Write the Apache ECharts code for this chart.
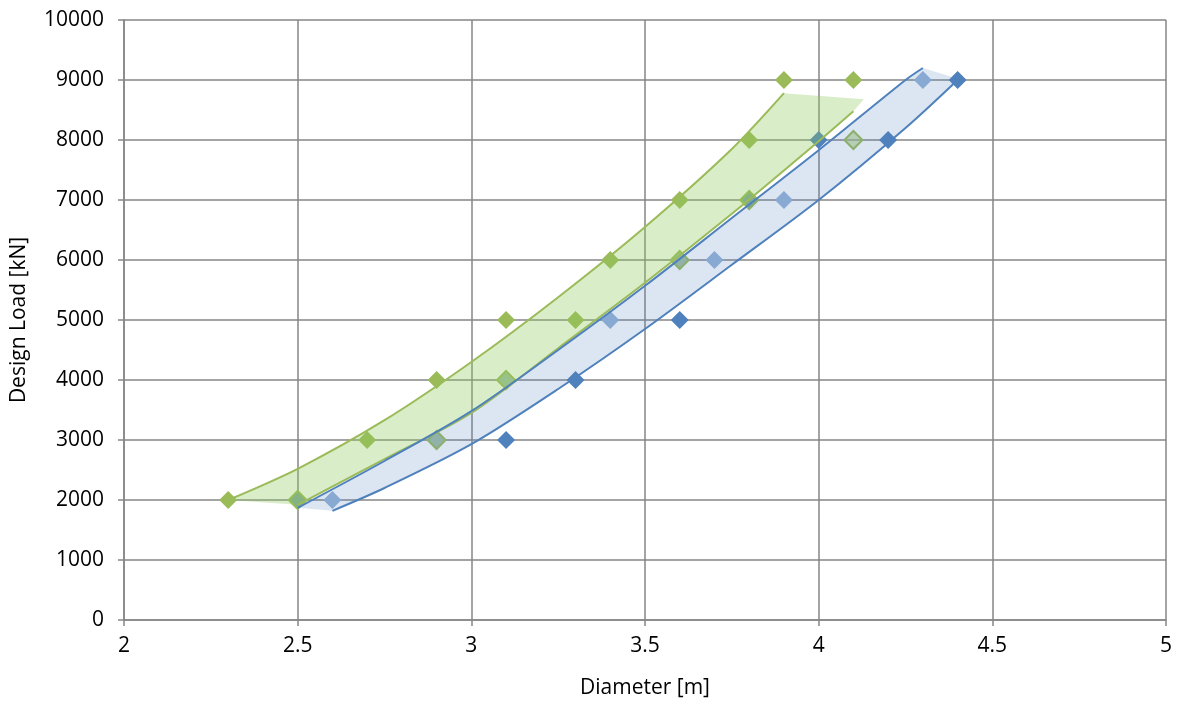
<!DOCTYPE html>
<html>
<head>
<meta charset="utf-8">
<script src="https://cdn.jsdelivr.net/npm/echarts@6/dist/echarts.min.js"></script>
<style>html,body{margin:0;padding:0;background:#fff}#c{width:1180px;height:707px}</style>
</head>
<body>
<div id="c"></div>
<script>
// ---- data ----
const xTicks = [2, 2.5, 3, 3.5, 4, 4.5, 5];
const yTicks = [0, 1000, 2000, 3000, 4000, 5000, 6000, 7000, 8000, 9000, 10000];

const greenDark = [[2.3,2000],[2.7,3000],[2.9,4000],[3.1,5000],[3.3,5000],[3.4,6000],[3.6,7000],[3.8,8000],[3.9,9000],[4.1,9000]];
const greenLight = [[2.5,2000],[2.9,3000],[3.1,4000],[3.6,6000],[3.8,7000],[4.1,8000]];
const blueDark = [[2.5,2000],[3.1,3000],[3.3,4000],[3.6,5000],[3.8,7000],[4.0,8000],[4.2,8000],[4.4,9000]];
const blueLight = [[2.6,2000],[2.9,3000],[3.1,4000],[3.4,5000],[3.6,6000],[3.7,6000],[3.9,7000],[4.3,9000]];

// trend curves
const greenUpper = [[2.3,2000],[2.5,2520],[2.75,3330],[3.0,4300],[3.25,5380],[3.5,6550],[3.75,7850],[3.9,8780]];
const greenLower = [[2.5,1920],[2.75,2680],[3.0,3450],[3.25,4530],[3.5,5620],[3.75,6770],[4.0,7980],[4.1,8480]];
const blueUpper  = [[2.5,1870],[2.75,2650],[3.0,3480],[3.25,4500],[3.5,5570],[3.75,6700],[4.0,7830],[4.25,9000],[4.3,9200]];
const blueLower  = [[2.6,1820],[2.75,2200],[3.0,2930],[3.25,3850],[3.5,4850],[3.75,5920],[4.0,7000],[4.25,8200],[4.4,9000]];

// extra corners of the shaded bands
const greenBandTop = [[4.13,8680]];
const blueBandTop  = [[4.38,9060]];

const C_GREEN = '#9BBB59', C_BLUE = '#4F81BD', C_LBLUE = '#95B3D7';

const greenPoly = greenUpper.concat(greenBandTop, greenLower.slice().reverse());
const bluePoly  = blueUpper.concat(blueBandTop, blueLower.slice().reverse());

function band(poly, fill) {
  return {
    type: 'custom', z: 3, silent: true,
    data: [[2, 0]],
    renderItem: function (params, api) {
      return { type: 'polygon', shape: { points: poly.map(p => api.coord(p)) }, style: { fill: fill } };
    }
  };
}
function trend(data, color) {
  return { type: 'line', data: data, smooth: 0.3, symbol: 'none', z: 4,
    lineStyle: { color: color, width: 2 }, silent: true };
}
function pts(data, color, border) {
  return { type: 'scatter', data: data, symbol: 'diamond', symbolSize: 18, z: 2,
    itemStyle: { color: color, borderColor: border || color, borderWidth: border ? 2 : 0, opacity: 1 } };
}

const FONT = 'Open Sans';
const FS = 21;
const chart = echarts.init(document.getElementById('c'));
chart.setOption({
  animation: false,
  backgroundColor: '#fff',
  textStyle: { fontFamily: FONT },
  grid: { left: 124, right: 14, top: 20, bottom: 87, containLabel: false, outerBoundsMode: 'none' },
  xAxis: {
    type: 'value', min: 2, max: 5, interval: 0.5,
    name: 'Diameter [m]', nameLocation: 'middle', nameGap: 58,
    nameTextStyle: { color: '#000', fontSize: FS, fontFamily: FONT },
    axisLine: { show: true, onZero: false, lineStyle: { color: '#868686', width: 1.5 } },
    axisTick: { show: true, length: 6, lineStyle: { color: '#868686', width: 1.5 } },
    axisLabel: { color: '#000', fontSize: FS, margin: 16, fontFamily: FONT,
      formatter: v => xTicks.includes(v) ? String(v) : '' },
    splitLine: { show: true, lineStyle: { color: '#868686', width: 1.5 } }
  },
  yAxis: {
    type: 'value', min: 0, max: 10000, interval: 1000,
    name: 'Design Load [kN]', nameLocation: 'middle', nameGap: 94,
    nameTextStyle: { color: '#000', fontSize: FS, fontFamily: FONT },
    axisLine: { show: true, lineStyle: { color: '#868686', width: 1.5 } },
    axisTick: { show: true, length: 6, lineStyle: { color: '#868686', width: 1.5 } },
    axisLabel: { color: '#000', fontSize: FS, margin: 20, fontFamily: FONT,
      formatter: v => yTicks.includes(v) ? String(v) : '' },
    splitLine: { show: true, lineStyle: { color: '#868686', width: 1.5 } }
  },
  series: [
    pts(blueDark, C_BLUE),
    pts(blueLight, C_LBLUE),
    pts(greenDark, C_GREEN),
    pts(greenLight, 'rgba(170,200,120,0.55)', C_GREEN),
    band(bluePoly, 'rgba(79,129,189,0.2)'),
    band(greenPoly, 'rgba(140,200,90,0.33)'),
    trend(greenUpper, C_GREEN),
    trend(greenLower, C_GREEN),
    trend(blueUpper, C_BLUE),
    trend(blueLower, C_BLUE)
  ]
});
</script>
</body>
</html>
